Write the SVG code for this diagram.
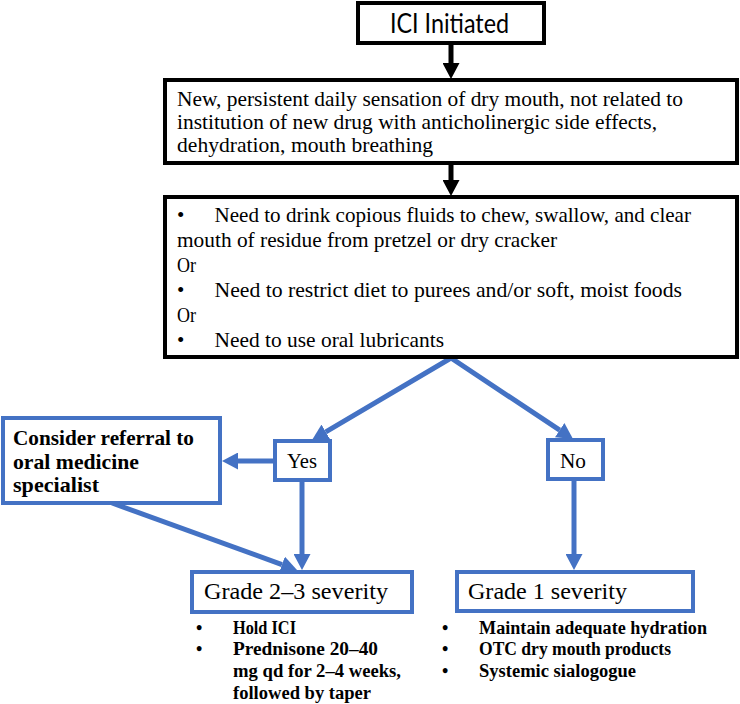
<svg xmlns="http://www.w3.org/2000/svg" width="740" height="704" viewBox="0 0 740 704">
<style>
.bk{fill:#fff;stroke:#000;stroke-width:4}
.bl{fill:#fff;stroke:#4472C4;stroke-width:4}
.t{font-family:"Liberation Serif","Times New Roman",serif;font-size:21px;fill:#000}
.b{font-family:"Liberation Serif","Times New Roman",serif;font-size:21px;font-weight:bold;fill:#000}
.s{font-family:"Liberation Serif","Times New Roman",serif;font-size:18px;font-weight:bold;fill:#000}
.g{font-family:"Liberation Serif","Times New Roman",serif;font-size:24px;fill:#000}
.ck{fill:none;stroke:#000;stroke-width:5}
.cb{fill:none;stroke:#4472C4;stroke-width:5;stroke-linejoin:miter}
</style>
<defs>
<marker id="ak" viewBox="0 0 16 17" refX="0" refY="8.5" markerWidth="16" markerHeight="17" markerUnits="userSpaceOnUse" orient="auto-start-reverse"><path d="M0,0 L16,8.5 L0,17 z" fill="#000"/></marker>
<marker id="ab" viewBox="0 0 16 17" refX="0" refY="8.5" markerWidth="16" markerHeight="17" markerUnits="userSpaceOnUse" orient="auto-start-reverse"><path d="M0,0 L16,8.5 L0,17 z" fill="#4472C4"/></marker>
</defs>
<g id="connectors">
<path class="ck" d="M451,43 L451,63" marker-end="url(#ak)"/>
<path class="ck" d="M451,163 L451,180" marker-end="url(#ak)"/>
<path class="cb" d="M325.8,431.9 L451,358 L559.7,430.1" marker-start="url(#ab)" marker-end="url(#ab)"/>
<path class="cb" d="M275,461 L238,461" marker-end="url(#ab)"/>
<path class="cb" d="M302,480 L302,554" marker-end="url(#ab)"/>
<path class="cb" d="M574,479 L574,554" marker-end="url(#ab)"/>
<path class="cb" d="M112,503 L282,564.6" marker-end="url(#ab)"/>
</g>
<g id="ici">
<rect class="bk" x="358" y="3" width="186" height="40"/>
<text x="390" y="33" font-family="Lato,'Liberation Sans',sans-serif" font-size="26" textLength="119" lengthAdjust="spacingAndGlyphs">ICI Initiated</text>
</g>
<g id="symptom">
<rect class="bk" x="165" y="80" width="572" height="83"/>
<text class="t" x="177" y="106" textLength="506" lengthAdjust="spacingAndGlyphs">New, persistent daily sensation of dry mouth, not related to</text>
<text class="t" x="177" y="129" textLength="480" lengthAdjust="spacingAndGlyphs">institution of new drug with anticholinergic side effects,</text>
<text class="t" x="177" y="152" textLength="256" lengthAdjust="spacingAndGlyphs">dehydration, mouth breathing</text>
</g>
<g id="criteria">
<rect class="bk" x="165" y="197" width="572" height="160"/>
<text class="t" x="177" y="222">•</text>
<text class="t" x="214.5" y="222" textLength="476.5" lengthAdjust="spacingAndGlyphs">Need to drink copious fluids to chew, swallow, and clear</text>
<text class="t" x="177" y="247" textLength="380" lengthAdjust="spacingAndGlyphs">mouth of residue from pretzel or dry cracker</text>
<text class="t" x="177" y="272" textLength="19" lengthAdjust="spacingAndGlyphs">Or</text>
<text class="t" x="177" y="297">•</text>
<text class="t" x="214.5" y="297" textLength="467.5" lengthAdjust="spacingAndGlyphs">Need to restrict diet to purees and/or soft, moist foods</text>
<text class="t" x="177" y="322" textLength="19" lengthAdjust="spacingAndGlyphs">Or</text>
<text class="t" x="177" y="347">•</text>
<text class="t" x="214.5" y="347" textLength="229.5" lengthAdjust="spacingAndGlyphs">Need to use oral lubricants</text>
</g>
<g id="yes">
<rect class="bl" x="275" y="441" width="55" height="39"/>
<text class="t" x="287" y="468" font-size="22" textLength="30" lengthAdjust="spacingAndGlyphs">Yes</text>
</g>
<g id="no">
<rect class="bl" x="548" y="440" width="55" height="39"/>
<text class="t" x="560" y="468" font-size="22" textLength="26" lengthAdjust="spacingAndGlyphs">No</text>
</g>
<g id="referral">
<rect class="bl" x="3" y="418" width="217" height="85"/>
<text class="b" x="13" y="445" textLength="181" lengthAdjust="spacingAndGlyphs">Consider referral to</text>
<text class="b" x="13" y="469" textLength="126" lengthAdjust="spacingAndGlyphs">oral medicine</text>
<text class="b" x="13" y="492" textLength="86" lengthAdjust="spacingAndGlyphs">specialist</text>
</g>
<g id="grade23">
<rect class="bl" x="192" y="572" width="220" height="40"/>
<text class="g" x="204" y="599" textLength="184" lengthAdjust="spacingAndGlyphs">Grade 2–3 severity</text>
<text class="s" x="196" y="634">•</text>
<text class="s" x="233" y="634" textLength="63" lengthAdjust="spacingAndGlyphs">Hold ICI</text>
<text class="s" x="196" y="655">•</text>
<text class="s" x="233" y="655" textLength="145" lengthAdjust="spacingAndGlyphs">Prednisone 20–40</text>
<text class="s" x="233" y="677" textLength="168" lengthAdjust="spacingAndGlyphs">mg qd for 2–4 weeks,</text>
<text class="s" x="233" y="699" textLength="138" lengthAdjust="spacingAndGlyphs">followed by taper</text>
</g>
<g id="grade1">
<rect class="bl" x="457" y="572" width="236" height="39"/>
<text class="g" x="468" y="599" textLength="159" lengthAdjust="spacingAndGlyphs">Grade 1 severity</text>
<text class="s" x="442" y="634">•</text>
<text class="s" x="479" y="634" textLength="228" lengthAdjust="spacingAndGlyphs">Maintain adequate hydration</text>
<text class="s" x="442" y="655">•</text>
<text class="s" x="479" y="655" textLength="192" lengthAdjust="spacingAndGlyphs">OTC dry mouth products</text>
<text class="s" x="442" y="677">•</text>
<text class="s" x="479" y="677" textLength="157" lengthAdjust="spacingAndGlyphs">Systemic sialogogue</text>
</g>
</svg>
